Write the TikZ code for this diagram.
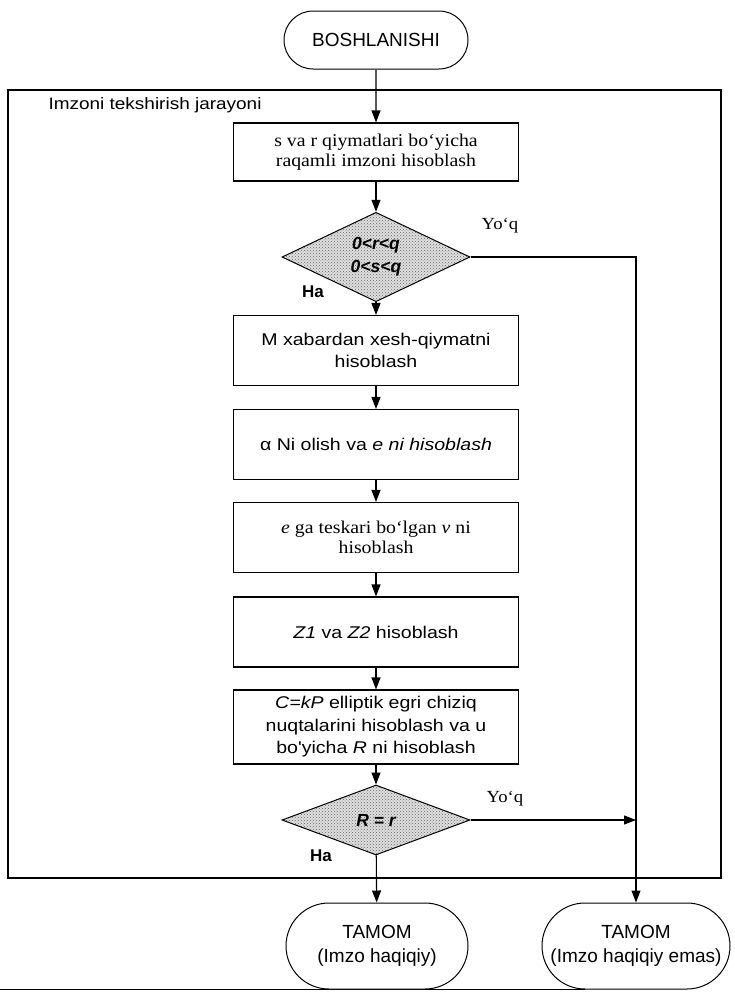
\documentclass[tikz,border=0pt]{standalone}
\usepackage{fontspec}
\setmainfont{Liberation Serif}
\newfontfamily\sansA[FakeStretch=1.15]{Liberation Sans}
\newfontfamily\sansB{Liberation Sans}
\newfontfamily\serifA[FakeStretch=1.1]{Liberation Serif}
\usetikzlibrary{shapes.geometric,shapes.misc,arrows.meta,patterns}
\tikzset{
  box/.style={draw, line width=1.1pt, minimum width=285pt, minimum height=70pt, align=center, inner sep=2pt, font=\sansA\fontsize{17}{22.5}\selectfont},
  sbox/.style={box, font=\serifA\fontsize{18}{20}\selectfont},
  term/.style={draw, rounded rectangle, line width=1pt, align=center, fill=white, inner sep=2pt, font=\sansB\fontsize{19}{24}\selectfont},
  dec/.style={diamond, draw, line width=1pt, minimum width=188pt, minimum height=70pt, inner sep=0pt, preaction={fill=gray!25}, pattern=crosshatch dots, pattern color=gray!80!black, align=center, font=\sansB\bfseries\itshape\fontsize{17.5}{23}\selectfont},
  arr/.style={line width=1.1pt, -{Triangle[length=12pt,width=9pt]}},
  yoq/.style={font=\serifA\fontsize{17}{19}\selectfont},
  ha/.style={font=\sansB\bfseries\fontsize{17}{19}\selectfont},
}
\begin{document}
\begin{tikzpicture}[x=1pt,y=-1pt]
\useasboundingbox (0,0) rectangle (735,996);
\node[draw, line width=1.1pt, minimum width=713pt, minimum height=788pt, inner sep=0pt] (frame) at (364.5,484) {};
\node[anchor=west, font=\sansA\fontsize{16.5}{19}\selectfont] (lbl) at (45,105) {Imzoni tekshirish jarayoni};
\draw[line width=1pt] (0,989) -- (585,989);

\node[term, minimum width=188pt, minimum height=58pt] (start) at (376,40) {BOSHLANISHI};
\node[sbox, minimum height=58pt] (b1) at (376,152) {s va r qiymatlari bo‘yicha\\raqamli imzoni hisoblash};
\node[dec] (d1) at (376,257) {0<r<q\\0<s<q};
\node[box] (b2) at (376,350.5) {M xabardan xesh-qiymatni\\hisoblash};
\node[box] (b3) at (376,444.5) {α Ni olish va \textit{e ni hisoblash}};
\node[sbox] (b4) at (376,537.5) {\textit{e} ga teskari bo‘lgan \textit{v} ni\\hisoblash};
\node[box] (b5) at (376,632) {\textit{Z1} va \textit{Z2} hisoblash};
\node[box, minimum height=74pt] (b6) at (376,727) {\textit{C=kP} elliptik egri chiziq\\nuqtalarini hisoblash va u\\bo'yicha \textit{R} ni hisoblash};
\node[dec] (d2) at (376,820) {R = r};
\node[term, minimum width=186pt, minimum height=86pt] (e1) at (377,946) {TAMOM\\(Imzo haqiqiy)};
\node[term, minimum width=192pt, minimum height=86pt] (e2) at (636,946) {TAMOM\\(Imzo haqiqiy emas)};

\node[yoq] (y1) at (500,226) {Yo‘q};
\node[yoq] (y2) at (505,799) {Yo‘q};
\node[ha] (h1) at (313,292) {Ha};
\node[ha] (h2) at (321,856) {Ha};

\draw[arr] (start) -- (b1);
\draw[arr] (b1) -- (d1);
\draw[arr] (d1) -- (b2);
\draw[arr] (b2) -- (b3);
\draw[arr] (b3) -- (b4);
\draw[arr] (b4) -- (b5);
\draw[arr] (b5) -- (b6);
\draw[arr] (b6) -- (d2);
\draw[arr] (d2) -- (e1);
\draw[arr] (d1.east) -| (e2.north);
\draw[arr] (d2.east) -- (d2.east -| e2.north);
\end{tikzpicture}
\end{document}
